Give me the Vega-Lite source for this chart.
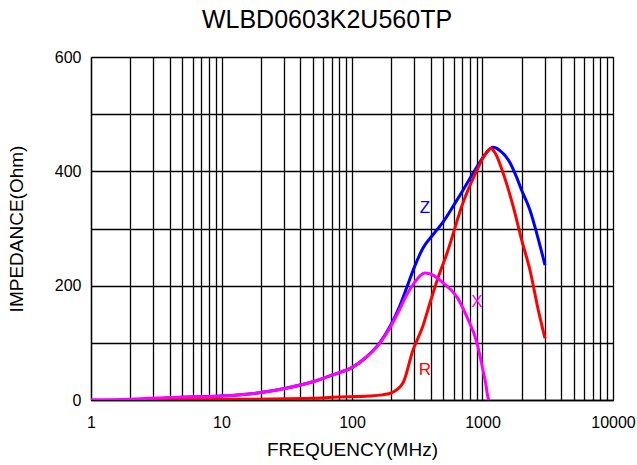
{
  "$schema": "https://vega.github.io/schema/vega-lite/v6.json",
  "autosize": "none",
  "width": 522,
  "height": 343,
  "padding": {"left": 91, "top": 57, "right": 24, "bottom": 65},
  "background": "white",
  "title": {"text": "WLBD0603K2U560TP", "fontSize": 25, "font": "Liberation Sans", "fontWeight": "normal", "color": "#000000", "anchor": "middle", "dx": -25, "offset": 16},
  "config": {
    "view": {"stroke": "#000000", "strokeWidth": 1},
    "font": "Liberation Sans"
  },
  "datasets": {
    "Z": [
      {"f": 2.7, "v": 1}, {"f": 5, "v": 5}, {"f": 10, "v": 7}, {"f": 20, "v": 13}, {"f": 31.8, "v": 21},
      {"f": 50, "v": 32}, {"f": 71, "v": 44}, {"f": 102, "v": 58}, {"f": 121, "v": 70}, {"f": 164, "v": 101},
      {"f": 196, "v": 129}, {"f": 230, "v": 162}, {"f": 264, "v": 198}, {"f": 300, "v": 232}, {"f": 350, "v": 266},
      {"f": 420, "v": 290}, {"f": 498, "v": 311}, {"f": 600, "v": 340}, {"f": 709, "v": 367}, {"f": 907, "v": 408},
      {"f": 1050, "v": 430}, {"f": 1203, "v": 442}, {"f": 1350, "v": 437}, {"f": 1625, "v": 415}, {"f": 1837, "v": 388},
      {"f": 1995, "v": 367}, {"f": 2312, "v": 332}, {"f": 2600, "v": 292}, {"f": 3013, "v": 236}
    ],
    "R": [
      {"f": 2.7, "v": 0.5}, {"f": 10, "v": 1}, {"f": 50, "v": 3}, {"f": 71, "v": 5}, {"f": 137, "v": 7},
      {"f": 170, "v": 9}, {"f": 203, "v": 13}, {"f": 246, "v": 30}, {"f": 293, "v": 87}, {"f": 350, "v": 130},
      {"f": 396, "v": 170}, {"f": 450, "v": 210}, {"f": 535, "v": 257}, {"f": 709, "v": 345}, {"f": 907, "v": 402},
      {"f": 1050, "v": 430}, {"f": 1160, "v": 440}, {"f": 1250, "v": 432}, {"f": 1443, "v": 396}, {"f": 1722, "v": 338},
      {"f": 1995, "v": 280}, {"f": 2312, "v": 227}, {"f": 2677, "v": 157}, {"f": 3013, "v": 108}
    ],
    "X": [
      {"f": 1, "v": 0.5}, {"f": 2, "v": 1.5}, {"f": 2.73, "v": 3}, {"f": 5, "v": 5}, {"f": 10, "v": 7},
      {"f": 20, "v": 13}, {"f": 31.8, "v": 21}, {"f": 50, "v": 32}, {"f": 71, "v": 44}, {"f": 102, "v": 58},
      {"f": 121, "v": 70}, {"f": 164, "v": 100}, {"f": 196, "v": 127}, {"f": 230, "v": 157}, {"f": 264, "v": 185},
      {"f": 300, "v": 205}, {"f": 362, "v": 222}, {"f": 420, "v": 218}, {"f": 498, "v": 205}, {"f": 638, "v": 180},
      {"f": 761, "v": 145}, {"f": 907, "v": 100}, {"f": 1009, "v": 52}, {"f": 1060, "v": 28}, {"f": 1100, "v": 5},
      {"f": 1120, "v": 0}
    ],
    "labels": [
      {"f": 362, "v": 336, "t": "Z", "c": "Z"},
      {"f": 362, "v": 52, "t": "R", "c": "R"},
      {"f": 907, "v": 171, "t": "X", "c": "X"}
    ]
  },
  "encoding": {
    "x": {
      "field": "f", "type": "quantitative",
      "scale": {"type": "log", "domain": [1, 10000], "nice": false},
      "axis": {
        "title": "FREQUENCY(MHz)",
        "titleFont": "Liberation Sans", "titleFontSize": 19, "titleFontWeight": "normal", "titleColor": "#000000", "titlePadding": 10,
        "values": [1,2,3,4,5,6,7,8,9,10,20,30,40,50,60,70,80,90,100,200,300,400,500,600,700,800,900,1000,2000,3000,4000,5000,6000,7000,8000,9000,10000],
        "labelExpr": "(datum.value == 1 || datum.value == 10 || datum.value == 100 || datum.value == 1000 || datum.value == 10000) ? format(datum.value, 'd') : ''",
        "labelFont": "Liberation Sans", "labelFontSize": 16, "labelColor": "#000000", "labelPadding": 14, "labelOverlap": false, "labelFlush": false,
        "ticks": false,
        "grid": true, "gridColor": "#000000", "gridOpacity": 1, "gridWidth": 1.3,
        "domainColor": "#000000", "domainWidth": 1.3
      }
    },
    "y": {
      "field": "v", "type": "quantitative",
      "scale": {"domain": [0, 600], "nice": false, "zero": true},
      "axis": {
        "title": "IMPEDANCE(Ohm)",
        "titleFont": "Liberation Sans", "titleFontSize": 19, "titleFontWeight": "normal", "titleColor": "#000000", "titlePadding": 28,
        "values": [0,100,200,300,400,500,600],
        "labelExpr": "datum.value % 200 == 0 ? datum.label : ''",
        "labelFont": "Liberation Sans", "labelFontSize": 16, "labelColor": "#000000", "labelPadding": 10,
        "ticks": false,
        "grid": true, "gridColor": "#000000", "gridOpacity": 1, "gridWidth": 1.3,
        "domainColor": "#000000", "domainWidth": 1.3
      }
    }
  },
  "layer": [
    {"data": {"name": "Z"}, "mark": {"type": "line", "color": "#0000ff", "strokeWidth": 3, "interpolate": "monotone", "clip": true}},
    {"data": {"name": "R"}, "mark": {"type": "line", "color": "#ff0000", "strokeWidth": 3, "interpolate": "monotone", "clip": true}},
    {"data": {"name": "X"}, "mark": {"type": "line", "color": "#ff00ff", "strokeWidth": 3, "interpolate": "monotone", "clip": true}},
    {
      "data": {"name": "labels"},
      "mark": {"type": "text", "fontSize": 17, "font": "Liberation Sans"},
      "encoding": {
        "text": {"field": "t"},
        "color": {"field": "c", "type": "nominal", "scale": {"domain": ["Z", "R", "X"], "range": ["#0000ff", "#ff0000", "#ff00ff"]}, "legend": null}
      }
    }
  ]
}
